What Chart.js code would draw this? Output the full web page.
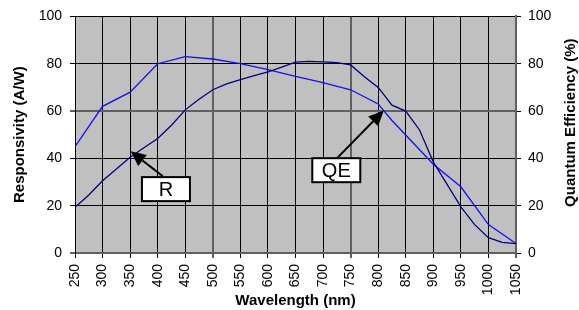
<!DOCTYPE html>
<html>
<head>
<meta charset="utf-8">
<script src="https://cdn.jsdelivr.net/npm/chart.js"></script>
<style>
  html, body { margin: 0; padding: 0; background: #fff; }
  #myChart { display: block; }
</style>
</head>
<body>
<canvas id="myChart" width="579" height="310"></canvas>
<script>
// responsivity curve (dark line), read every 25 nm
const rWavelengths = [250, 275, 300, 325, 350, 375, 400, 425, 450, 475, 500, 525, 550, 575, 600, 625, 650,
  675, 700, 725, 750, 775, 800, 825, 850, 875, 900, 925, 950, 975, 1000, 1025, 1050];
const rValues = [19.3, 24.5, 30.5, 35.5, 40.5, 44.5, 48.4, 54, 60.5, 65, 69, 71.5, 73.3, 75, 76.5, 78.6, 80.7,
  81, 80.8, 80.5, 79.5, 74.5, 70, 62.5, 60, 52, 38.5, 29, 19.5, 12, 6.5, 4.5, 4];

// quantum efficiency curve (bright line)
const qeWavelengths = [250, 300, 350, 400, 450, 500, 550, 600, 650, 700, 750, 800, 825, 900, 950, 1000, 1050];
const qeValues = [45, 62, 68, 80, 83, 82, 80, 77.5, 74.7, 72, 69, 63, 56, 37.5, 28, 12, 4];

// callout boxes: label, arrow tip, arrow tail, box centre (data units)
const callouts = [
  {text: 'R', tip: [351, 43], tail: [409, 32.5], box: [415, 27]},
  {text: 'QE', tip: [810, 60.2], tail: [725, 40], box: [724, 35]}
];

const grayGridX = [500, 750, 1050];
const grayGridY = [0, 60];

const plotBackground = {
  id: 'plotBackground',
  beforeDraw(chart) {
    const {ctx, chartArea: a} = chart;
    ctx.save();
    ctx.fillStyle = '#c0c0c0';
    ctx.fillRect(a.left, a.top, a.width, a.height);
    ctx.restore();
  }
};

const calloutPlugin = {
  id: 'callouts',
  afterDraw(chart) {
    const {ctx, chartArea: a} = chart;
    const xs = chart.scales.x, ys = chart.scales.y;
    ctx.save();
    callouts.forEach(c => {
      const tx = xs.getPixelForValue(c.tip[0]), ty = ys.getPixelForValue(c.tip[1]);
      const sx = xs.getPixelForValue(c.tail[0]), sy = ys.getPixelForValue(c.tail[1]);
      const ang = Math.atan2(ty - sy, tx - sx);
      const len = 15, half = 7;
      const bx = tx - len * Math.cos(ang), by = ty - len * Math.sin(ang);
      ctx.strokeStyle = '#000';
      ctx.lineWidth = 2;
      ctx.beginPath();
      ctx.moveTo(sx, sy);
      ctx.lineTo(bx, by);
      ctx.stroke();
      ctx.fillStyle = '#000';
      ctx.beginPath();
      ctx.moveTo(tx, ty);
      ctx.lineTo(bx + half * Math.sin(ang), by - half * Math.cos(ang));
      ctx.lineTo(bx - half * Math.sin(ang), by + half * Math.cos(ang));
      ctx.closePath();
      ctx.fill();

      const cx = xs.getPixelForValue(c.box[0]), cy = ys.getPixelForValue(c.box[1]);
      const w = 48, h = 24;
      ctx.fillStyle = '#fff';
      ctx.fillRect(cx - w / 2, cy - h / 2, w, h);
      ctx.lineWidth = 2;
      ctx.strokeRect(cx - w / 2, cy - h / 2, w, h);
      ctx.fillStyle = '#000';
      ctx.font = '20px "Liberation Sans", Arial, sans-serif';
      ctx.textAlign = 'center';
      ctx.textBaseline = 'middle';
      ctx.fillText(c.text, cx, cy + 1);
    });

    // right axis title reads bottom-to-top like the left one
    ctx.font = 'bold 15px "Liberation Sans", Arial, sans-serif';
    ctx.fillStyle = '#000';
    ctx.translate(571, (a.top + a.bottom) / 2 - 12);
    ctx.rotate(-Math.PI / 2);
    ctx.textAlign = 'center';
    ctx.textBaseline = 'middle';
    ctx.fillText('Quantum Efficiency (%)', 0, 0);
    ctx.restore();
  }
};

Chart.defaults.font.family = '"Liberation Sans", Arial, sans-serif';
Chart.defaults.color = '#000';

const tickFont = {size: 14};
const titleFont = {size: 15, weight: 'bold'};

const ctx = document.querySelector('#myChart');

const graphData = {
  type: 'line',
  data: {
    datasets: [{
      label: 'R',
      data: rWavelengths.map((w, i) => ({x: w, y: rValues[i]})),
      borderColor: '#000080',
      borderWidth: 1.3,
      pointRadius: 0,
      fill: false,
      tension: 0,
      yAxisID: 'y'
    }, {
      label: 'QE',
      data: qeWavelengths.map((w, i) => ({x: w, y: qeValues[i]})),
      borderColor: '#1010ff',
      borderWidth: 1.3,
      pointRadius: 0,
      fill: false,
      tension: 0,
      yAxisID: 'y2'
    }]
  },
  options: {
    responsive: false,
    animation: false,
    layout: {padding: {top: 16, left: 0, right: 0, bottom: 0}},
    plugins: {legend: {display: false}, tooltip: {enabled: false}},
    scales: {
      x: {
        type: 'linear',
        position: 'bottom',
        min: 250,
        max: 1050,
        ticks: {stepSize: 50, minRotation: 90, maxRotation: 90, font: tickFont, padding: 6,
          callback: v => String(v)},
        grid: {
          color: c => c.tick && grayGridX.includes(c.tick.value) ? '#606060' : '#000',
          lineWidth: c => c.tick && grayGridX.includes(c.tick.value) ? 2 : 1,
          tickLength: 5
        },
        border: {color: '#606060', width: 2},
        title: {display: true, text: 'Wavelength (nm)', font: titleFont, padding: {top: 0, bottom: 0}},
        afterFit: s => { s.height = 57; }
      },
      y: {
        position: 'left',
        min: 0,
        max: 100,
        ticks: {stepSize: 20, font: tickFont, padding: 8},
        grid: {
          color: c => c.tick && grayGridY.includes(c.tick.value) ? '#606060' : '#000',
          lineWidth: c => c.tick && grayGridY.includes(c.tick.value) ? 2 : 1,
          tickLength: 5
        },
        border: {color: '#000', width: 1},
        title: {display: true, text: 'Responsivity (A/W)', font: titleFont, padding: {top: 11, bottom: 0}},
        afterFit: s => { s.width = 75; }
      },
      y2: {
        position: 'right',
        min: 0,
        max: 100,
        ticks: {stepSize: 20, font: tickFont, padding: 7},
        grid: {drawOnChartArea: false, color: '#000', tickLength: 5},
        border: {color: '#606060', width: 2},
        afterFit: s => { s.width = 63; }
      }
    }
  },
  plugins: [plotBackground, calloutPlugin]
};

const myChart = new Chart(ctx, graphData);
</script>
</body>
</html>
